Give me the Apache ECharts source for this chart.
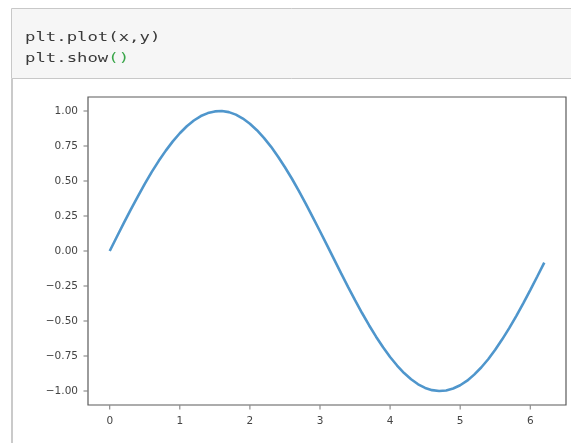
<!DOCTYPE html>
<html>
<head>
<meta charset="utf-8">
<script src="https://cdn.jsdelivr.net/npm/echarts@6/dist/echarts.min.js"></script>
<style>
html,body{margin:0;padding:0;background:#fff;}
#c{width:571px;height:443px;}
</style>
</head>
<body>
<div id="c"></div>
<script>
// Data (x from 0 to 6.2 in steps of 0.1)
var xValues = [0.0,0.1,0.2,0.3,0.4,0.5,0.6,0.7,0.8,0.9,1.0,1.1,1.2,1.3,1.4,1.5,1.6,1.7,1.8,1.9,2.0,2.1,2.2,2.3,2.4,2.5,2.6,2.7,2.8,2.9,3.0,3.1,3.2,3.3,3.4,3.5,3.6,3.7,3.8,3.9,4.0,4.1,4.2,4.3,4.4,4.5,4.6,4.7,4.8,4.9,5.0,5.1,5.2,5.3,5.4,5.5,5.6,5.7,5.8,5.9,6.0,6.1,6.2];
var yValues = [0.000,0.100,0.199,0.296,0.389,0.479,0.565,0.644,0.717,0.783,0.841,0.891,0.932,0.964,0.985,0.997,1.000,0.992,0.974,0.946,0.909,0.863,0.808,0.746,0.675,0.598,0.516,0.427,0.335,0.239,0.141,0.042,-0.058,-0.158,-0.256,-0.351,-0.443,-0.530,-0.612,-0.688,-0.757,-0.818,-0.872,-0.916,-0.952,-0.978,-0.994,-1.000,-0.996,-0.982,-0.959,-0.926,-0.883,-0.832,-0.773,-0.706,-0.631,-0.551,-0.465,-0.374,-0.279,-0.182,-0.083];
var xTicks = [0,1,2,3,4,5,6];
var yTicks = [-1.00,-0.75,-0.50,-0.25,0.00,0.25,0.50,0.75,1.00];
var codeLine1 = 'plt.plot(x,y)';
var codeLine2a = 'plt.show';
var codeLine2b = '()';

var xMin = -0.31, xMax = 6.51, yMin = -1.1, yMax = 1.1;
var points = xValues.map(function(x,i){return [x,yValues[i]];});
var xTickMarks = xTicks.map(function(v){return [v, yMin];});
var yTickMarks = yTicks.map(function(v){return [xMin, v];});
var chart = echarts.init(document.getElementById('c'), null, {renderer:'canvas'});
var mono = '"DejaVu Sans Mono", "Liberation Mono", monospace';
var lblColor = '#444444';
var frameColor = '#5a5a5a';
chart.setOption({
  animation:false,
  backgroundColor:'#ffffff',
  grid:{left:88, top:97, right:5, bottom:38, show:true, borderColor:frameColor, borderWidth:1.2},
  xAxis:{
    type:'value', min:xMin, max:xMax,
    splitLine:{show:false},
    axisLine:{show:false, onZero:false},
    axisTick:{show:false},
    axisLabel:{customValues:xTicks, margin:11, color:lblColor, fontSize:10.5, fontFamily:'"DejaVu Sans", sans-serif', formatter:function(v){return String(v);}}
  },
  yAxis:{
    type:'value', min:yMin, max:yMax,
    splitLine:{show:false},
    axisLine:{show:false, onZero:false},
    axisTick:{show:false},
    axisLabel:{customValues:yTicks, margin:10, color:lblColor, fontSize:10.5, fontFamily:'"DejaVu Sans", sans-serif',
      formatter:function(v){var s=Math.abs(v).toFixed(2); return (v<0?'\u2212':'')+s;}}
  },
  series:[{
    type:'line', data:points, showSymbol:false, smooth:false,
    lineStyle:{color:'#4f96cc', width:2.6}
  },{
    type:'scatter', data:xTickMarks, symbol:'rect', symbolSize:[1,4], symbolOffset:[0,2.5],
    clip:false, silent:true, itemStyle:{color:'#555555'}, z:5
  },{
    type:'scatter', data:yTickMarks, symbol:'rect', symbolSize:[4,1], symbolOffset:[-2.5,0],
    clip:false, silent:true, itemStyle:{color:'#555555'}, z:5
  }],
  graphic:[
    {type:'rect', shape:{x:11.5,y:8.5,width:580,height:70}, style:{fill:'#f6f6f6', stroke:'#c8c8c8', lineWidth:1}},
    {type:'line', shape:{x1:12,y1:79,x2:12,y2:443}, style:{stroke:'#b8b8b8', lineWidth:1.5}},
    {type:'text', x:25, y:38, scaleX:1.33, style:{text:codeLine1, font:'13px '+mono, fill:'#3a3a3a', textVerticalAlign:'middle', verticalAlign:'middle'}},
    {type:'text', x:25, y:59, scaleX:1.33, style:{text:codeLine2a, font:'13px '+mono, fill:'#3a3a3a', textVerticalAlign:'middle', verticalAlign:'middle'}},
    {type:'text', x:25+8*7.83*1.33, y:59, scaleX:1.33, style:{text:codeLine2b, font:'13px '+mono, fill:'#3aa64a', textVerticalAlign:'middle', verticalAlign:'middle'}}
  ]
});
</script>
</body>
</html>
